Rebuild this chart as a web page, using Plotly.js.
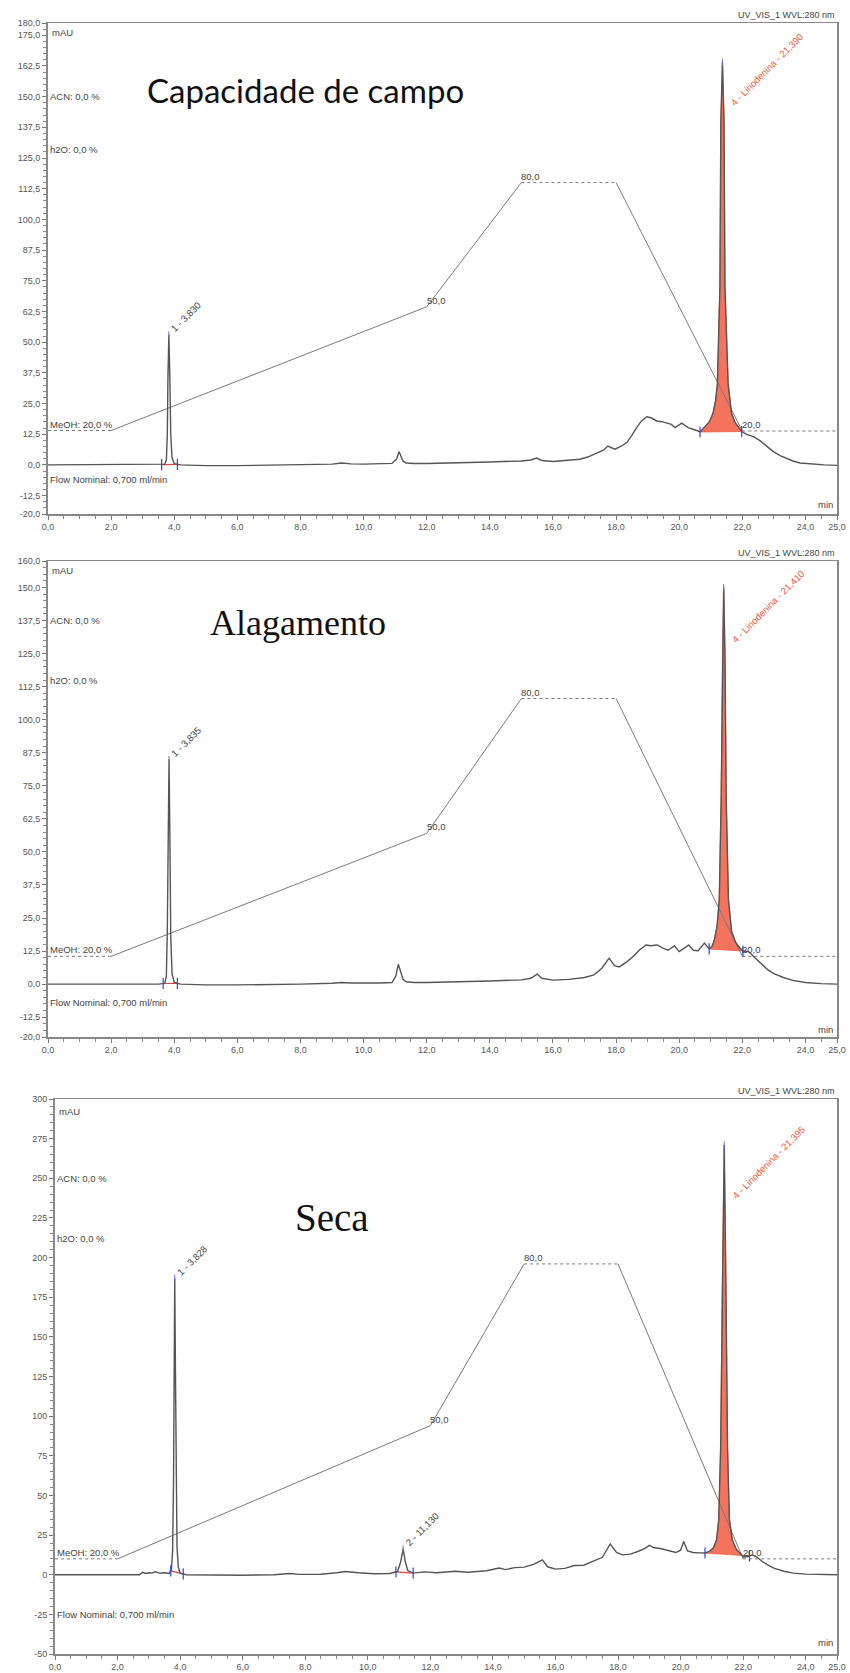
<!DOCTYPE html>
<html>
<head>
<meta charset="utf-8">
<script src="https://cdn.plot.ly/plotly-3.0.1.min.js"></script>
<style>html,body{margin:0;padding:0;background:#fff}#chart{width:850px;height:1673px}</style>
</head>
<body>
<div id="chart"></div>
<script>
// ---------- data ----------
const panelTitles = ['Capacidade de campo', 'Alagamento', 'Seca'];
const xTickVals = [0, 2, 4, 6, 8, 10, 12, 14, 16, 18, 20, 22, 24, 25];

const yTicksCampo = [-20, -12.5, 0, 12.5, 25, 37.5, 50, 62.5, 75, 87.5, 100, 112.5, 125, 137.5, 150, 162.5, 175, 180];
const yTicksAlag = [-20, -12.5, 0, 12.5, 25, 37.5, 50, 62.5, 75, 87.5, 100, 112.5, 125, 137.5, 150, 160];
const yTicksSeca = [-50, -25, 0, 25, 50, 75, 100, 125, 150, 175, 200, 225, 250, 275, 300];

const timeCampo = [0, 1, 2, 3, 3.5, 3.7, 3.75, 3.78, 3.80, 3.83, 3.86, 3.89, 3.93, 4.0, 4.2, 5, 6, 7, 8, 9, 9.3, 9.6, 10, 10.5, 10.9, 11.05, 11.12, 11.17, 11.25, 11.35, 11.6, 12, 13, 14, 15, 15.3, 15.48, 15.65, 16.0, 16.5, 16.85, 17.1, 17.38, 17.6, 17.74, 17.96, 18.15, 18.34, 18.5, 18.65, 18.8, 18.97, 19.1, 19.29, 19.45, 19.6, 19.75, 19.87, 20.08, 20.28, 20.45, 20.6, 20.66, 20.82, 20.95, 21.07, 21.15, 21.21, 21.29, 21.32, 21.37, 21.42, 21.45, 21.55, 21.66, 21.76, 21.86, 21.98, 22.14, 22.35, 22.56, 22.75, 22.97, 23.2, 23.4, 23.6, 23.83, 24.24, 24.6, 25];
const mauCampo = [0, 0, 0, 0, 0, 0.3, 2, 12, 35, 53, 36, 12, 3, 0.5, 0, -0.3, -0.3, -0.2, 0, 0.3, 0.8, 0.4, 0.3, 0.4, 0.6, 2.5, 5.4, 4, 1.5, 0.8, 0.6, 0.6, 0.8, 1.2, 1.6, 2, 2.8, 1.8, 1.4, 1.8, 2.3, 3.2, 4.9, 6, 7.7, 6.4, 7.5, 9.1, 12, 15.2, 17.8, 19.6, 19.2, 17.9, 17.6, 17.2, 16.5, 15.2, 17.0, 15.2, 14.6, 13.8, 13.4, 15.6, 17.5, 21, 26, 33, 72.6, 140, 164, 140, 72.6, 33, 21, 17.5, 15.6, 13.6, 12.4, 11.5, 9.9, 7.8, 5.5, 3.8, 2.6, 1.6, 0.8, 0.3, 0, -0.2];

const timeAlag = [0, 1, 2, 3, 3.5, 3.7, 3.75, 3.78, 3.81, 3.835, 3.86, 3.89, 3.93, 4.0, 4.2, 5, 6, 7, 8, 9, 9.3, 9.6, 10, 10.5, 10.9, 11.02, 11.1, 11.17, 11.25, 11.35, 11.6, 12, 13, 14, 15, 15.3, 15.5, 15.65, 16, 16.5, 17, 17.3, 17.55, 17.78, 17.95, 18.1, 18.35, 18.55, 18.75, 18.95, 19.1, 19.3, 19.5, 19.65, 19.85, 20.0, 20.15, 20.3, 20.45, 20.6, 20.8, 20.95, 21.05, 21.12, 21.2, 21.27, 21.33, 21.37, 21.41, 21.45, 21.49, 21.56, 21.66, 21.78, 21.9, 22.02, 22.2, 22.4, 22.6, 22.8, 23.0, 23.3, 23.6, 24, 24.5, 25];
const mauAlag = [0, 0, 0, 0, 0, 0.3, 3, 20, 60, 85, 58, 18, 4, 0.6, 0, -0.3, -0.3, -0.2, 0, 0.3, 0.6, 0.4, 0.3, 0.4, 0.6, 3, 7.5, 5, 1.8, 0.9, 0.6, 0.6, 0.8, 1.2, 1.6, 2.2, 3.8, 2.2, 1.5, 1.8, 2.5, 3.5, 6, 9.8, 7, 6.5, 8.5, 10.5, 13, 14.8, 14.5, 14.8, 13.5, 12.8, 14.5, 12.3, 13.5, 14.8, 12.8, 12.6, 15.5, 13.3, 14.5, 17, 22, 32, 70, 125, 150, 125, 70, 32, 20, 16, 14, 12.5, 12.3, 10, 7.8, 5.5, 4, 2.5, 1.4, 0.6, 0.2, 0];

const timeSeca = [0, 1, 2, 2.7, 2.8, 2.9, 3.0, 3.1, 3.2, 3.35, 3.5, 3.65, 3.72, 3.76, 3.79, 3.81, 3.828, 3.85, 3.87, 3.9, 3.94, 4.0, 4.2, 5, 6, 7, 7.5, 7.8, 8.5, 9, 9.3, 9.7, 10.2, 10.7, 10.95, 11.05, 11.13, 11.2, 11.28, 11.45, 11.8, 12.2, 12.8, 13.2, 13.8, 14.2, 14.4, 14.7, 15.0, 15.3, 15.58, 15.75, 16.0, 16.3, 16.6, 16.9, 17.2, 17.5, 17.75, 17.95, 18.15, 18.4, 18.65, 18.85, 19.0, 19.15, 19.35, 19.6, 19.85, 20.0, 20.1, 20.22, 20.4, 20.6, 20.78, 20.9, 21.05, 21.15, 21.22, 21.28, 21.33, 21.395, 21.45, 21.5, 21.56, 21.65, 21.78, 21.9, 22.02, 22.15, 22.3, 22.45, 22.6, 22.8, 23.0, 23.3, 23.6, 24, 24.5, 25];
const mauSeca = [0, 0, 0, 0, 1.5, 0.8, 1.2, 1, 1.8, 1, 1.2, 0.8, 3, 15, 60, 130, 187, 130, 60, 18, 5, 1, 0, -0.3, -0.3, 0, 0.8, 0.2, 0.3, 1.2, 2, 1.2, 0.6, 0.8, 2, 8, 16.3, 8, 2.5, 1, 1.8, 1.2, 2.2, 1.6, 2.5, 4.2, 3.2, 4.5, 4.8, 6.5, 9.4, 5, 3.5, 4, 5.8, 6, 8.5, 11, 19.4, 14, 12.5, 13, 14.8, 16.5, 18.5, 17, 16.5, 15.2, 14, 15.5, 21, 15, 14, 13.8, 13.7, 14.5, 17, 22, 35, 80, 180, 271, 180, 80, 35, 22, 16, 13.5, 11.2, 11.5, 12.5, 11, 8.5, 6, 4, 2.2, 1, 0.4, 0.1, 0];

// gradient (% MeOH) and its drawn level in each panel (mAU scale of the panel)
const gradTime = [0, 2, 12, 15, 18, 22, 25];
const gradPct = [20, 20, 50, 80, 80, 20, 20];
const gradCampo = [14, 14, 64.4, 115, 115, 13.8, 13.8];
const gradAlag = [10.5, 10.5, 57, 108, 108, 10.5, 10.5];
const gradSeca = [10, 10, 94, 196, 196, 10, 10];

// integrated peaks
const peakNamesCampo = ['1 - 3,830', '4 - Liriodenina - 21,390'];
const peakNamesAlag = ['1 - 3,835', '4 - Liriodenina - 21,410'];
const peakNamesSeca = ['1 - 3,828', '2 - 11,130', '4 - Liriodenina - 21,395'];
const peakRtCampo = [3.83, 21.37];
const peakRtAlag = [3.835, 21.41];
const peakRtSeca = [3.828, 11.13, 21.395];
const peakLabelYCampo = [53, 145];
const peakLabelYAlag = [85, 128];
const peakLabelYSeca = [187, 16.3, 235];
const peakStartCampo = [3.6, 20.66];
const peakEndCampo = [4.1, 21.98];
const peakStartAlag = [3.65, 20.95];
const peakEndAlag = [4.1, 22.02];
const peakStartSeca = [3.7, 10.9, 20.78];
const peakEndSeca = [4.1, 11.45, 22.2];
const peakIdentifiedCampo = [false, true];
const peakIdentifiedAlag = [false, true];
const peakIdentifiedSeca = [false, false, true];

// text blocks of the instrument report
const acnLevel = [150, 137.5, 250];
const h2oLevel = [128.4, 115, 212];
const flowLevel = [-6, -7, -25];
const mauLevel = [176, 156.5, 292];
const minLevel = [-16.3, -17, -43];
const titleX = [3.07, 5.07, 7.6];
const titleY = [152.7, 136.6, 225];

// ---------- build ----------
const panels = [
  {t: timeCampo, y: mauCampo, g: gradCampo, names: peakNamesCampo, rt: peakRtCampo, ly: peakLabelYCampo, s: peakStartCampo, e: peakEndCampo, id: peakIdentifiedCampo, yt: yTicksCampo, dec: true, minor: 2.5},
  {t: timeAlag, y: mauAlag, g: gradAlag, names: peakNamesAlag, rt: peakRtAlag, ly: peakLabelYAlag, s: peakStartAlag, e: peakEndAlag, id: peakIdentifiedAlag, yt: yTicksAlag, dec: true, minor: 2.5},
  {t: timeSeca, y: mauSeca, g: gradSeca, names: peakNamesSeca, rt: peakRtSeca, ly: peakLabelYSeca, s: peakStartSeca, e: peakEndSeca, id: peakIdentifiedSeca, yt: yTicksSeca, dec: false, minor: 5}
];

const H = 1673, W = 850;
const xDomains = [[48 / W, 837 / W], [48 / W, 837 / W], [55 / W, 837 / W]];
const yDomains = [[1 - 514 / H, 1 - 23 / H], [1 - 1037 / H, 1 - 561 / H], [1 - 1654 / H, 1 - 1099 / H]];
const titleFonts = [
  {family: 'Lato, Noto Sans, sans-serif', size: 33, color: '#111'},
  {family: 'Liberation Serif, DejaVu Serif, serif', size: 36, color: '#111'},
  {family: 'Liberation Serif, DejaVu Serif, serif', size: 39, color: '#111'}
];

function interp(xs, ys, x) {
  for (let i = 0; i < xs.length - 1; i++) {
    if (x >= xs[i] && x <= xs[i + 1]) {
      const f = (x - xs[i]) / (xs[i + 1] - xs[i]);
      return ys[i] + f * (ys[i + 1] - ys[i]);
    }
  }
  return ys[ys.length - 1];
}
const comma = (v, d) => v.toFixed(d).replace('.', ',');

const traces = [];
const annotations = [];
const layout = {
  width: W, height: H, margin: {l: 0, r: 0, t: 0, b: 0},
  paper_bgcolor: '#fff', plot_bgcolor: '#fff', showlegend: false,
  font: {family: 'Liberation Sans, Arial, sans-serif', color: '#444'},
  annotations: annotations
};
const smallFont = {family: 'Liberation Sans Narrow, Liberation Sans, Arial, sans-serif', size: 9.5, color: '#444'};
const tickFont = {family: 'Liberation Sans Narrow, Liberation Sans, Arial, sans-serif', size: 9, color: '#555'};

panels.forEach((p, k) => {
  const n = k === 0 ? '' : String(k + 1);
  const xa = 'x' + n, ya = 'y' + n;
  const xdom = xa + ' domain', ydom = ya + ' domain';

  layout['xaxis' + n] = {
    domain: xDomains[k], anchor: ya, range: [0, 25],
    tickmode: 'array', tickvals: xTickVals, ticktext: xTickVals.map(v => comma(v, 1)),
    ticks: 'outside', ticklen: 4, tickcolor: '#777', tickfont: tickFont,
    minor: {dtick: 0.5, ticklen: 3, tickcolor: '#888', ticks: 'outside'},
    showline: true, mirror: true, linecolor: '#888', linewidth: 1.5,
    showgrid: false, zeroline: false, fixedrange: true
  };
  layout['yaxis' + n] = {
    domain: yDomains[k], anchor: xa, range: [p.yt[0], p.yt[p.yt.length - 1]],
    tickmode: 'array', tickvals: p.yt, ticktext: p.yt.map(v => p.dec ? comma(v, 1) : String(v)),
    ticks: 'outside', ticklen: 4, tickcolor: '#777', tickfont: tickFont,
    minor: {dtick: p.minor, ticklen: 3, tickcolor: '#888', ticks: 'outside'},
    showline: true, mirror: true, linecolor: '#888', linewidth: 2,
    showgrid: false, zeroline: false, fixedrange: true
  };

  // red fill of the identified peak, red baseline of the others
  p.names.forEach((nm, j) => {
    const ys = interp(p.t, p.y, p.s[j]), ye = interp(p.t, p.y, p.e[j]);
    if (p.id[j]) {
      const px = [p.s[j]], py = [ys];
      p.t.forEach((tv, i) => { if (tv > p.s[j] && tv < p.e[j]) { px.push(tv); py.push(p.y[i]); } });
      px.push(p.e[j]); py.push(ye);
      px.push(p.s[j]); py.push(ys);
      traces.push({x: px, y: py, xaxis: xa, yaxis: ya, mode: 'lines', fill: 'toself',
        fillcolor: 'rgba(243,103,78,0.92)', line: {color: '#ef5a3f', width: 0.8}, hoverinfo: 'skip'});
    } else {
      traces.push({x: [p.s[j], p.e[j]], y: [ys, ye], xaxis: xa, yaxis: ya, mode: 'lines',
        line: {color: '#ee4433', width: 1.2}, hoverinfo: 'skip'});
    }
  });

  // gradient: sloped parts solid, plateaus dotted
  const solX = [], solY = [], dotX = [], dotY = [];
  for (let i = 0; i < gradTime.length - 1; i++) {
    const flat = p.g[i] === p.g[i + 1];
    const X = flat ? dotX : solX, Y = flat ? dotY : solY;
    X.push(gradTime[i], gradTime[i + 1], null);
    Y.push(p.g[i], p.g[i + 1], null);
  }
  traces.push({x: solX, y: solY, xaxis: xa, yaxis: ya, mode: 'lines', line: {color: '#7a7a7a', width: 1}, hoverinfo: 'skip'});
  traces.push({x: dotX, y: dotY, xaxis: xa, yaxis: ya, mode: 'lines', line: {color: '#7a7a7a', width: 1, dash: 'dot'}, hoverinfo: 'skip'});
  [2, 3, 5].forEach(i => {
    annotations.push({xref: xa, yref: ya, x: gradTime[i], y: p.g[i], text: comma(gradPct[i], 1),
      showarrow: false, xanchor: 'left', yanchor: 'bottom', xshift: -2, yshift: -1, font: smallFont});
  });

  // chromatogram
  traces.push({x: p.t, y: p.y, xaxis: xa, yaxis: ya, mode: 'lines', line: {color: '#555', width: 1.4}, hoverinfo: 'skip'});

  // integration limit markers
  const mx = [], my = [];
  p.names.forEach((nm, j) => { mx.push(p.s[j], p.e[j]); my.push(interp(p.t, p.y, p.s[j]), interp(p.t, p.y, p.e[j])); });
  traces.push({x: mx, y: my, xaxis: xa, yaxis: ya, mode: 'markers',
    marker: {symbol: 'line-ns-open', size: 8, color: '#3344dd', line: {color: '#3344dd', width: 1.2}}, hoverinfo: 'skip'});
  traces.push({x: p.rt, y: p.rt.map(r => interp(p.t, p.y, r)), xaxis: xa, yaxis: ya, mode: 'markers',
    marker: {symbol: 'line-ns-open', size: 5, color: '#6f6fe0', line: {color: '#6f6fe0', width: 1}}, hoverinfo: 'skip'});

  // peak labels
  p.names.forEach((nm, j) => {
    annotations.push({xref: xa, yref: ya, x: p.rt[j], y: p.ly[j], text: nm, showarrow: false,
      textangle: -45, xanchor: 'left', yanchor: 'bottom', xshift: p.id[j] ? 3 : -3, yshift: -2,
      font: {family: smallFont.family, size: 9.5, color: p.id[j] ? '#f0583c' : '#444'}});
  });

  // report texts
  const txt = (x, y, text, opt) => annotations.push(Object.assign({xref: xa, yref: ya, x: x, y: y, text: text,
    showarrow: false, xanchor: 'left', yanchor: 'middle', font: smallFont}, opt || {}));
  txt(0, mauLevel[k], 'mAU', {xshift: 2});
  txt(0, acnLevel[k], 'ACN: 0,0 %');
  txt(0, h2oLevel[k], 'h2O: 0,0 %');
  txt(0, p.g[0], 'MeOH: 20,0 %', {yanchor: 'bottom', yshift: -1});
  txt(0, flowLevel[k], 'Flow Nominal: 0,700 ml/min');
  annotations.push({xref: xdom, yref: ya, x: 1, y: minLevel[k], text: 'min', showarrow: false,
    xanchor: 'right', yanchor: 'middle', xshift: -2, font: smallFont});
  annotations.push({xref: xdom, yref: ydom, x: 1, y: 1, text: 'UV_VIS_1 WVL:280 nm', showarrow: false,
    xanchor: 'right', yanchor: 'bottom', yshift: 1, font: {family: smallFont.family, size: 9, color: '#444'}});
  annotations.push({xref: xa, yref: ya, x: titleX[k], y: titleY[k], text: panelTitles[k], showarrow: false,
    xanchor: 'left', yanchor: 'middle', font: titleFonts[k]});
});

Plotly.newPlot('chart', traces, layout, {staticPlot: true, displayModeBar: false});
</script>
</body>
</html>
